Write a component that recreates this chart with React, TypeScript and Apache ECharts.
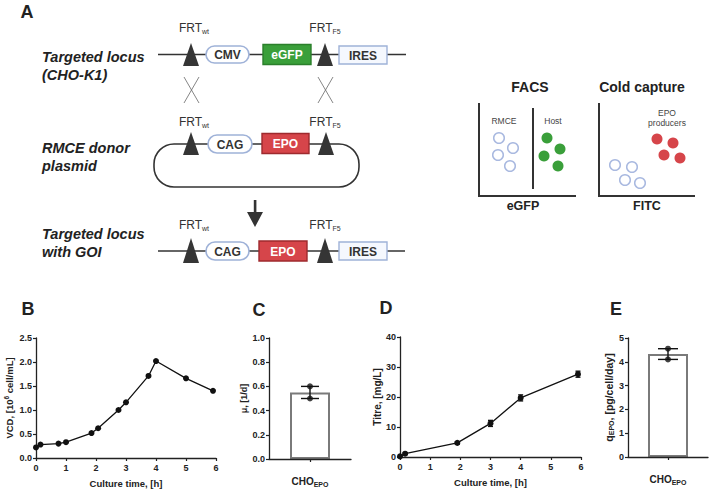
import React, { useEffect, useRef } from 'react';
import * as echarts from 'echarts';

// ---- data ----
const timeB = [0, 0.15, 0.75, 1.0, 1.85, 2.07, 2.75, 3.0, 3.75, 4.0, 5.0, 5.9];
const vcd = [0.22, 0.28, 0.3, 0.33, 0.52, 0.62, 1.0, 1.16, 1.71, 2.02, 1.66, 1.4];
const timeD = [0, 0.17, 1.9, 3.0, 4.0, 5.9];
const titre = [0.2, 1.1, 4.7, 11.2, 19.7, 27.6];
const titreSd = [0, 0.3, 0.4, 1.0, 1.0, 1.0];
const cellLine = ['CHO_EPO'];
const muMean = [0.55];
const muReplicates = [0.6, 0.5];
const qMean = [4.33];
const qReplicates = [4.55, 4.1];

const FONT = '"Liberation Sans", Arial, Helvetica, sans-serif';
const INK = '#222';

function txt(text: string, x: number, y: number, o: any = {}) {
  return {
    type: 'text',
    style: {
      text, x, y,
      fill: o.fill || INK,
      fontFamily: FONT,
      fontSize: o.size || 12,
      fontWeight: o.weight || 'normal',
      fontStyle: o.style || 'normal',
      align: o.align || 'center',
      verticalAlign: 'middle',
      rich: o.rich,
    },
  };
}
function frt(sub: string, x: number, y: number) {
  return {
    type: 'text',
    style: {
      text: '{a|FRT}{s|' + sub + '}', x, y,
      align: 'center', verticalAlign: 'middle',
      rich: {
        a: { fontFamily: FONT, fontSize: 12, fill: '#333', lineHeight: 14 },
        s: { fontFamily: FONT, fontSize: 7, fill: '#333', lineHeight: 9, verticalAlign: 'bottom' },
      },
    },
  };
}
function tri(cx: number, apex: number, base: number) {
  return { type: 'polygon', shape: { points: [[cx, apex], [cx + 8, base], [cx - 8, base]] }, style: { fill: '#353535' } };
}
function hline(x1: number, x2: number, y: number) {
  return { type: 'line', shape: { x1, y1: y, x2, y2: y }, style: { stroke: '#333', lineWidth: 1.6 } };
}
function pill(label: string, x: number, y: number, w: number, h: number) {
  return [
    { type: 'rect', shape: { x, y, width: w, height: h, r: h / 2 }, style: { fill: '#fff', stroke: '#9fb2d8', lineWidth: 1.6 } },
    txt(label, x + w / 2, y + h / 2 + 0.5, { size: 12, weight: 'bold', fill: '#333' }),
  ];
}
function box(label: string, x: number, y: number, w: number, h: number, fill: string, stroke: string, tfill: string) {
  return [
    { type: 'rect', shape: { x, y, width: w, height: h }, style: { fill, stroke, lineWidth: 1.4 } },
    txt(label, x + w / 2, y + h / 2 + 0.5, { size: 12, weight: 'bold', fill: tfill }),
  ];
}
function cross(x1: number, x2: number, y1: number, y2: number) {
  const st = { stroke: '#666', lineWidth: 0.8 };
  return [
    { type: 'line', shape: { x1, y1, x2, y2 }, style: st },
    { type: 'line', shape: { x1: x2, y1, x2: x1, y2 }, style: st },
  ];
}
function circ(cx: number, cy: number, fill: string | null) {
  return fill
    ? { type: 'circle', shape: { cx, cy, r: 5.5 }, style: { fill } }
    : { type: 'circle', shape: { cx, cy, r: 5.3 }, style: { fill: '#fff', stroke: '#a9b9e0', lineWidth: 1.5 } };
}
function ax(x1: number, y1: number, x2: number, y2: number) {
  return { type: 'line', shape: { x1, y1, x2, y2 }, style: { stroke: '#333', lineWidth: 2 } };
}

const GREEN = '#3a9f3a';
const RED = '#d6454a';
const ROWLBL = { size: 14.5, weight: 'bold', style: 'italic', align: 'left' };

const graphics: any[] = [
  txt('A', 27, 12, { size: 18, weight: 'bold' }),
  txt('B', 28, 309, { size: 18, weight: 'bold' }),
  txt('C', 259, 310, { size: 18, weight: 'bold' }),
  txt('D', 386, 308, { size: 18, weight: 'bold' }),
  txt('E', 616, 309, { size: 18, weight: 'bold' }),
  // row labels
  txt('Targeted locus', 42, 57, ROWLBL),
  txt('(CHO-K1)', 42, 75, ROWLBL),
  txt('RMCE donor', 42, 148, ROWLBL),
  txt('plasmid', 42, 166, ROWLBL),
  txt('Targeted locus', 42, 234, ROWLBL),
  txt('with GOI', 42, 252, ROWLBL),
  // row 1
  hline(158, 406, 54.5),
  tri(191, 43, 66), tri(325, 43, 66),
  ...pill('CMV', 206, 46, 43, 17),
  ...box('eGFP', 263, 44.5, 48, 20, GREEN, '#2b7f2b', '#fff'),
  ...box('IRES', 339, 46, 48, 18, '#f5f8fe', '#9fb2d8', '#333'),
  frt('wt', 194, 28), frt('F5', 325, 28),
  ...cross(184, 199, 77, 103), ...cross(318, 333, 77, 103),
  // row 2 (plasmid)
  { type: 'rect', shape: { x: 154, y: 144, width: 205, height: 43, r: 20 }, style: { fill: 'none', stroke: '#333', lineWidth: 1.6 } },
  tri(191, 132, 155), tri(326, 132, 155),
  ...pill('CAG', 208, 135, 44, 18),
  ...box('EPO', 262, 133.5, 47, 20, RED, '#9e2a2e', '#fff'),
  frt('wt', 194, 122), frt('F5', 325, 122),
  // arrow
  { type: 'rect', shape: { x: 253.8, y: 200, width: 2.6, height: 14 }, style: { fill: '#333' } },
  { type: 'polygon', shape: { points: [[247, 212], [263, 212], [255, 227]] }, style: { fill: '#333' } },
  // row 3
  hline(158, 405, 251),
  tri(191, 238, 263), tri(325, 238, 263),
  ...pill('CAG', 206, 242, 43, 18),
  ...box('EPO', 259, 241, 48, 20, RED, '#9e2a2e', '#fff'),
  ...box('IRES', 339, 242, 48, 18, '#f5f8fe', '#9fb2d8', '#333'),
  frt('wt', 194, 225), frt('F5', 325, 225),
  // FACS
  txt('FACS', 530, 87, { size: 14, weight: 'bold' }),
  ax(479, 103, 479, 197), ax(478, 196, 576, 196), ax(533, 108, 533, 189),
  txt('RMCE', 504, 121, { size: 8.5, fill: '#444' }),
  txt('Host', 553, 121, { size: 8.5, fill: '#444' }),
  circ(499, 138, null), circ(513, 148, null), circ(498, 155, null), circ(510, 166, null),
  circ(547, 138, GREEN), circ(560, 149, GREEN), circ(544, 156, GREEN), circ(558, 166, GREEN),
  txt('eGFP', 523, 206, { size: 12.5, weight: 'bold' }),
  // Cold capture
  txt('Cold capture', 642, 87, { size: 14, weight: 'bold' }),
  ax(599, 103, 599, 197), ax(598, 196, 695, 196),
  txt('EPO', 667, 113, { size: 8.5, fill: '#444' }),
  txt('producers', 667, 123, { size: 8.5, fill: '#444' }),
  circ(657, 139, RED), circ(673, 143, RED), circ(664, 155, RED), circ(680, 158, RED),
  circ(615, 165, null), circ(632, 167, null), circ(625, 180, null), circ(640, 183, null),
  txt('FITC', 647, 206, { size: 12.5, weight: 'bold' }),
];

const axisLine = { show: true, onZero: false, lineStyle: { color: INK, width: 1.3 } };
const axisTick = { show: true, length: 3, lineStyle: { color: INK, width: 1.2 } };
const labelStyle = { fontFamily: FONT, fontWeight: 'bold', fontSize: 9, color: INK };
const nameStyle = (size: number) => ({ fontFamily: FONT, fontWeight: 'bold', fontSize: size, color: INK });

function timeAxis(gi: number) {
  return {
    type: 'value', gridIndex: gi, min: 0, max: 6, interval: 1,
    name: 'Culture time, [h]', nameLocation: 'middle', nameGap: 20,
    nameTextStyle: nameStyle(9.5),
    axisLine, axisTick, axisLabel: { ...labelStyle, margin: 5 }, splitLine: { show: false },
  };
}
function catAxis(gi: number) {
  return {
    type: 'category', gridIndex: gi, data: cellLine, z: 10,
    axisLine, axisTick: { ...axisTick, alignWithLabel: true },
    axisLabel: {
      margin: 16,
      formatter: () => '{a|CHO}{s|EPO}',
      rich: {
        a: { fontFamily: FONT, fontWeight: 'bold', fontSize: 10, color: INK, lineHeight: 13 },
        s: { fontFamily: FONT, fontWeight: 'bold', fontSize: 7, color: INK, lineHeight: 9, verticalAlign: 'bottom' },
      },
    },
    splitLine: { show: false },
  };
}
function valAxis(gi: number, max: number, interval: number, digits: number, name: string, gap: number, rich?: any, nsize = 9.5) {
  return {
    type: 'value', gridIndex: gi, min: 0, max, interval,
    name, nameLocation: 'middle', nameGap: gap,
    nameTextStyle: { ...nameStyle(nsize), rich },
    axisLine, axisTick, splitLine: { show: false },
    axisLabel: { ...labelStyle, margin: 4, formatter: (v: number) => v.toFixed(digits) },
  };
}

function errRender(capHalf: number) {
  return (params: any, api: any) => {
    const x = api.value(0);
    const a = api.coord([x, api.value(1)]);
    const b = api.coord([x, api.value(2)]);
    const st = { stroke: '#111', lineWidth: 1.4 };
    return {
      type: 'group',
      children: [
        { type: 'line', shape: { x1: a[0], y1: a[1], x2: b[0], y2: b[1] }, style: st },
        { type: 'line', shape: { x1: a[0] - capHalf, y1: a[1], x2: a[0] + capHalf, y2: a[1] }, style: st },
        { type: 'line', shape: { x1: b[0] - capHalf, y1: b[1], x2: b[0] + capHalf, y2: b[1] }, style: st },
      ],
    };
  };
}

export default function App() {
  const ref = useRef<HTMLDivElement>(null);
  useEffect(() => {
    document.body.style.margin = '0';
    const chart = echarts.init(ref.current!, null, { renderer: 'svg' });
    const dErr = timeD.map((t, i) => [t, titre[i] - titreSd[i], titre[i] + titreSd[i]]).filter((d, i) => titreSd[i] > 0);
    const supRich = {
      a: { fontFamily: FONT, fontWeight: 'bold', fontSize: 9.5, color: INK, lineHeight: 12 },
      s: { fontFamily: FONT, fontWeight: 'bold', fontSize: 6.5, color: INK, lineHeight: 8, verticalAlign: 'top' },
    };
    const subRich = {
      a: { fontFamily: FONT, fontWeight: 'bold', fontSize: 10.5, color: INK, lineHeight: 13 },
      s: { fontFamily: FONT, fontWeight: 'bold', fontSize: 7, color: INK, lineHeight: 9, verticalAlign: 'bottom' },
    };
    chart.setOption({
      animation: false,
      backgroundColor: '#fff',
      grid: [
        { left: 36, top: 338, width: 180, height: 120 },
        { left: 269, top: 338, width: 82, height: 121 },
        { left: 400, top: 337, width: 181, height: 120 },
        { left: 628, top: 338, width: 80, height: 119 },
      ],
      xAxis: [timeAxis(0), catAxis(1), timeAxis(2), catAxis(3)],
      yAxis: [
        valAxis(0, 2.5, 0.5, 1, '{a|VCD, [10}{s|6}{a| cell/mL]}', 21, supRich),
        valAxis(1, 1, 0.2, 1, 'μ, [1/d]', 19, undefined, 9),
        valAxis(2, 40, 10, 0, 'Titre, [mg/L]', 17, undefined, 10),
        valAxis(3, 5, 1, 0, '{a|q}{s|EPO}{a|, [pg/cell/day]}', 12, subRich),
      ],
      series: [
        {
          type: 'line', xAxisIndex: 0, yAxisIndex: 0,
          data: timeB.map((t, i) => [t, vcd[i]]),
          symbol: 'circle', symbolSize: 6,
          itemStyle: { color: '#111' }, lineStyle: { color: '#111', width: 1.3 },
        },
        {
          type: 'bar', xAxisIndex: 1, yAxisIndex: 1, data: muMean, barWidth: 40,
          itemStyle: { color: '#fff', borderColor: '#7a7a7a', borderWidth: 2 },
        },
        {
          type: 'custom', xAxisIndex: 1, yAxisIndex: 1, z: 5,
          data: [[0, Math.min(...muReplicates), Math.max(...muReplicates)]],
          renderItem: errRender(9),
        },
        {
          type: 'scatter', xAxisIndex: 1, yAxisIndex: 1, z: 6,
          data: muReplicates.map((v) => [0, v]), symbolSize: 6, itemStyle: { color: '#111' },
        },
        {
          type: 'line', xAxisIndex: 2, yAxisIndex: 2,
          data: timeD.map((t, i) => [t, titre[i]]),
          symbol: 'circle', symbolSize: 6,
          itemStyle: { color: '#111' }, lineStyle: { color: '#111', width: 1.3 },
        },
        {
          type: 'custom', xAxisIndex: 2, yAxisIndex: 2, z: 5,
          data: dErr, renderItem: errRender(2.5),
        },
        {
          type: 'bar', xAxisIndex: 3, yAxisIndex: 3, data: qMean, barWidth: 40,
          itemStyle: { color: '#fff', borderColor: '#7a7a7a', borderWidth: 2 },
        },
        {
          type: 'custom', xAxisIndex: 3, yAxisIndex: 3, z: 5,
          data: [[0, Math.min(...qReplicates), Math.max(...qReplicates)]],
          renderItem: errRender(10),
        },
        {
          type: 'scatter', xAxisIndex: 3, yAxisIndex: 3, z: 6,
          data: qReplicates.map((v) => [0, v]), symbolSize: 6, itemStyle: { color: '#111' },
        },
      ],
      graphic: { elements: graphics },
    });
    return () => chart.dispose();
  }, []);
  return <div ref={ref} style={{ position: 'fixed', left: 0, top: 0, width: 709, height: 493 }} />;
}
